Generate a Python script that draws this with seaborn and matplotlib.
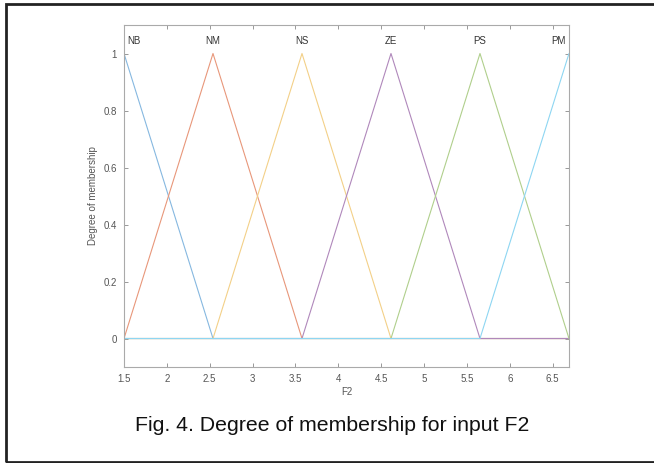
import numpy as np
import pandas as pd
import matplotlib
matplotlib.use("Agg")
import matplotlib.pyplot as plt
import seaborn as sns
from matplotlib.patches import Rectangle

# membership function names and triangle points (left, peak, right)
mf_names = ["NB", "NM", "NS", "ZE", "PS", "PM"]
mf_left = [1.5, 1.5, 2.538, 3.576, 4.614, 5.652]
mf_peak = [1.5, 2.538, 3.576, 4.614, 5.652, 6.69]
mf_right = [2.538, 3.576, 4.614, 5.652, 6.69, 6.69]
x_min, x_max = 1.5, 6.69

colors = ["#86b8e0", "#e8977a", "#f3d088", "#b088bb", "#b0cf8c", "#8ed6f2"]

sns.set_style("white")
plt.rcParams['font.family'] = ['Liberation Sans', 'DejaVu Sans']

fig = plt.figure(figsize=(6.54, 4.63), dpi=100)
ax = fig.add_axes([0.1896, 0.2073, 0.6804, 0.7387])

rows = []
for name, a, b, c in zip(mf_names, mf_left, mf_peak, mf_right):
    pts = []
    if a > x_min:
        pts.append((x_min, 0))
    if b > a:
        pts.append((a, 0))
    pts.append((b, 1))
    if c > b:
        pts.append((c, 0))
    if x_max > c:
        pts.append((x_max, 0))
    for k, (x, y) in enumerate(pts):
        rows.append({"mf": name, "order": k, "x": x, "y": y})
df = pd.DataFrame(rows)

sns.lineplot(data=df, x="x", y="y", hue="mf", palette=colors, sort=False,
             estimator=None, linewidth=0.8, legend=False, ax=ax)

for name, b, col in zip(mf_names, mf_peak, colors):
    ha = "center"
    xt = b
    if b == x_min:
        ha, xt = "left", b + 0.04
    elif b == x_max:
        ha, xt = "right", b - 0.04
    ax.text(xt, 1.045, name, ha=ha, va="center", fontsize=7, color="#333333")

ax.set_xlim(x_min, x_max)
ax.set_ylim(-0.1, 1.1)
ax.set_xticks(np.arange(1.5, 6.51, 0.5))
ax.set_xticklabels(["1.5", "2", "2.5", "3", "3.5", "4", "4.5", "5", "5.5", "6", "6.5"])
ax.set_yticks([0, 0.2, 0.4, 0.6, 0.8, 1])
ax.set_yticklabels(["0", "0.2", "0.4", "0.6", "0.8", "1"])
ax.tick_params(direction="in", length=3, width=0.6, color="#888888",
               labelsize=7, labelcolor="#555555", top=True, right=True,
               bottom=True, left=True, pad=5)
for s in ax.spines.values():
    s.set_color("#aaaaaa")
    s.set_linewidth(0.8)
ax.set_xlabel("F2", fontsize=7, color="#555555", labelpad=2)
ax.set_ylabel("Degree of membership", fontsize=7, color="#555555", labelpad=4)

fig.text(0.508, 0.081, "Fig. 4. Degree of membership for input F2",
         ha="center", va="center", fontsize=15.3, color="#111111")

fig.patches.append(Rectangle((6 / 654, 1 / 463), 1.0, 458 / 463,
                             transform=fig.transFigure, fill=False,
                             edgecolor="#222222", linewidth=2))

fig.savefig("out.png", dpi=100)
plt.close(fig)
